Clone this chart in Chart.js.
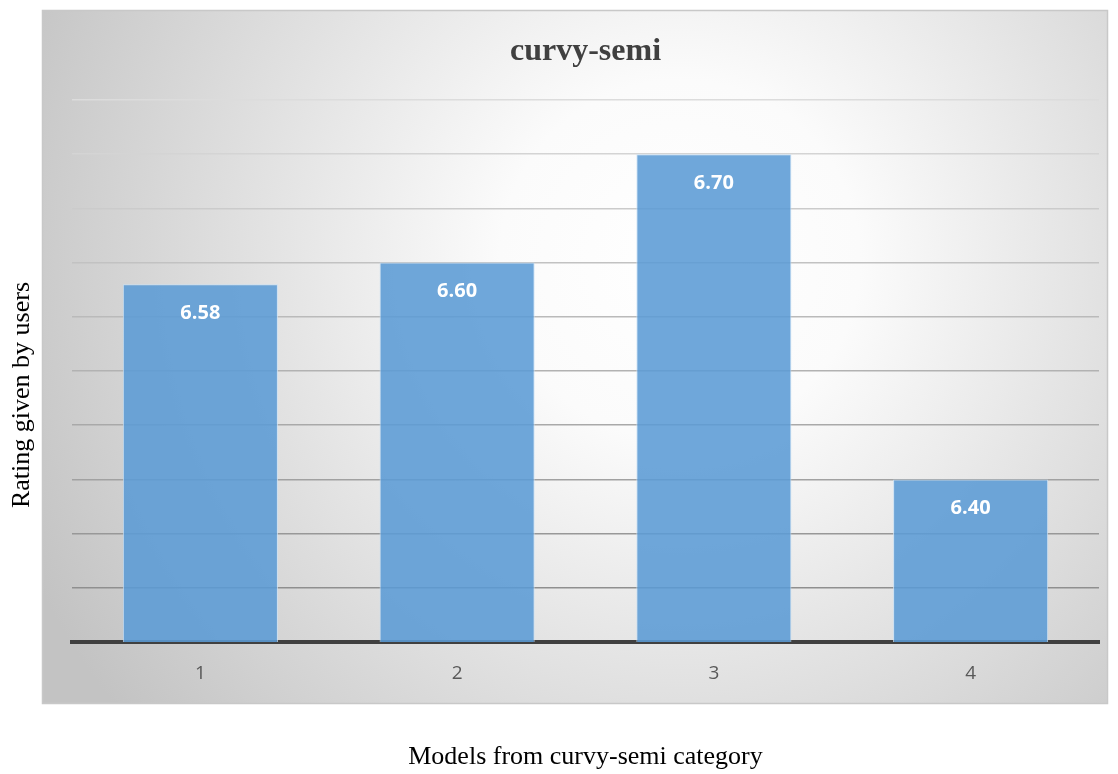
<!DOCTYPE html>
<html>
<head>
<meta charset="utf-8">
<script src="https://cdn.jsdelivr.net/npm/chart.js@4"></script>
<style>
  html, body { margin: 0; padding: 0; background: #ffffff; }
  #wrap { width: 1118px; height: 774px; }
</style>
</head>
<body>
<div id="wrap"><canvas id="myChart" width="1118" height="774"></canvas></div>
<script>
// chart data
const models = ['1', '2', '3', '4'];
const ratings = [6.58, 6.60, 6.70, 6.40];
const yMin = 6.25;
const yMax = 6.75;
const yStep = 0.05;
const yTitle = 'Rating given by users';

// grey panel with the soft radial light behind the plot
const panelBackground = {
  id: 'panelBackground',
  beforeDraw(chart) {
    const ctx = chart.ctx;
    ctx.save();
    const g = ctx.createRadialGradient(680, 260, 0, 680, 260, 720);
    g.addColorStop(0, '#ffffff');
    g.addColorStop(0.25, '#fbfbfb');
    g.addColorStop(1, '#c3c3c3');
    ctx.fillStyle = g;
    ctx.fillRect(42, 10, 1066, 694);
    ctx.strokeStyle = '#c8c8c8';
    ctx.lineWidth = 1.5;
    ctx.strokeRect(42.5, 10.5, 1065, 693);
    ctx.restore();
  }
};

// white value labels near the top of each bar + the rotated y title
const valueLabels = {
  id: 'valueLabels',
  afterDatasetsDraw(chart) {
    const ctx = chart.ctx;
    const meta = chart.getDatasetMeta(0);
    ctx.save();
    ctx.fillStyle = '#ffffff';
    ctx.font = 'bold 20px "Open Sans", sans-serif';
    ctx.textAlign = 'center';
    ctx.textBaseline = 'middle';
    meta.data.forEach((bar, i) => {
      ctx.fillText(ratings[i].toFixed(2), bar.x, bar.y + 29);
    });
    ctx.restore();
  },
  afterDraw(chart) {
    const ctx = chart.ctx;
    ctx.save();
    ctx.translate(22, 395);
    ctx.rotate(-Math.PI / 2);
    ctx.fillStyle = '#000000';
    ctx.font = '26px "Liberation Serif", "Times New Roman", serif';
    ctx.textAlign = 'center';
    ctx.textBaseline = 'middle';
    ctx.fillText(yTitle, 0, 0);
    ctx.restore();
  }
};

const ctx = document.getElementById('myChart').getContext('2d');
const chart = new Chart(ctx, {
  type: 'bar',
  data: {
    labels: models,
    datasets: [{
      label: 'Rating',
      data: ratings,
      backgroundColor: 'rgba(91, 155, 213, 0.88)',
      borderColor: 'rgba(200, 224, 245, 0.9)',
      borderWidth: 1,
      barPercentage: 0.604,
      categoryPercentage: 1.0
    }]
  },
  options: {
    responsive: false,
    animation: false,
    layout: { padding: { left: 72, right: 19, top: 10, bottom: 0 } },
    plugins: {
      legend: { display: false },
      tooltip: { enabled: false },
      title: {
        display: true,
        text: 'curvy-semi',
        color: '#404040',
        font: { family: '"Liberation Serif", "Times New Roman", serif', size: 32, weight: 'bold' },
        padding: { top: 23, bottom: 28.6 }
      }
    },
    scales: {
      x: {
        z: 1,
        grid: { display: false, drawTicks: false },
        border: { display: true, color: '#404040', width: 4 },
        ticks: {
          color: '#595959',
          padding: 20,
          font: { family: '"Open Sans", sans-serif', size: 19 }
        },
        title: {
          display: true,
          text: 'Models from curvy-semi category',
          color: '#000000',
          font: { family: '"Liberation Serif", "Times New Roman", serif', size: 26 },
          padding: { top: 37, bottom: 1 }
        }
      },
      y: {
        min: yMin,
        max: yMax,
        ticks: { display: false, stepSize: yStep },
        border: { display: false },
        grid: {
          drawTicks: false,
          lineWidth: 1.5,
          color: (c) => {
            const t = (yMax - c.tick.value) / (yMax - yMin);
            const v = Math.round(220 - t * 85);
            return 'rgb(' + v + ',' + v + ',' + v + ')';
          }
        }
      }
    }
  },
  plugins: [panelBackground, valueLabels]
});
</script>
</body>
</html>
